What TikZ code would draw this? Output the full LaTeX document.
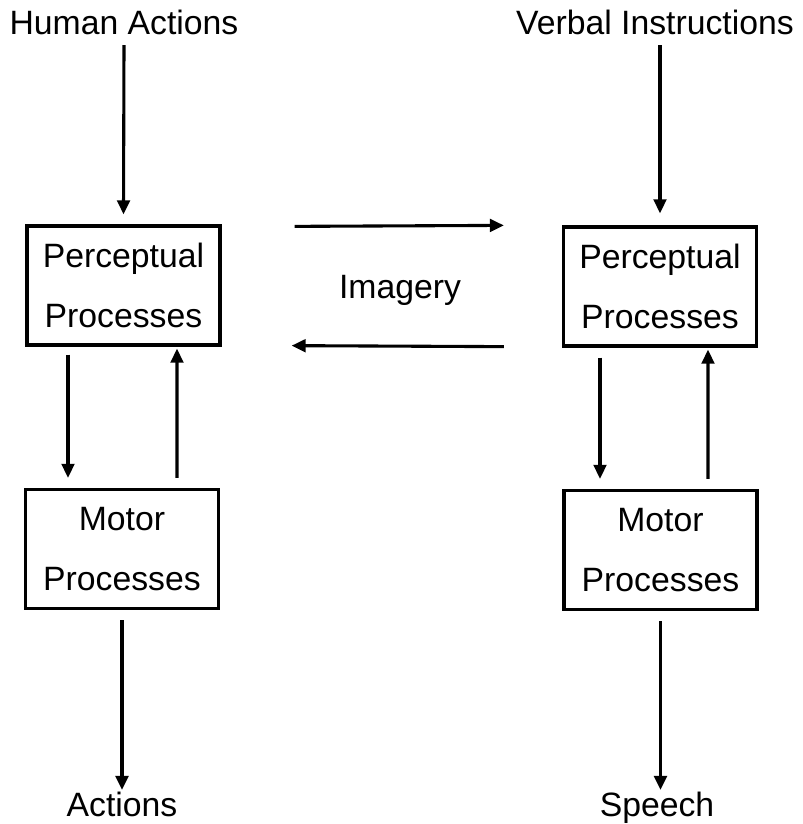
\documentclass[tikz,border=0pt]{standalone}
\usepackage{fontspec}
\setmainfont{Liberation Sans}
\usepackage{tikz}
\usetikzlibrary{positioning}
\usetikzlibrary{calc}
\usetikzlibrary{arrows.meta}

\tikzset{
  procbox/.style={draw, line width=2.3pt, minimum width=4.825cm, minimum height=2.975cm, align=center, inner sep=0pt},
  lbl/.style={inner sep=0pt},
  flow/.style={line width=2.2pt, -{Triangle[length=10pt, width=9pt]}}
}

\begin{document}
\begin{tikzpicture}[x=0.025cm, y=-0.025cm, font=\fontsize{24}{43}\selectfont]
  \useasboundingbox (0,0) rectangle (803,824);
  % labels
  \node[lbl] (hum) at (124,22) {Human Actions};
  \node[lbl] (verb) at (655,22) {Verbal Instructions};
  \node[lbl, anchor=base] (act) at (122,816) {Actions};
  \node[lbl, anchor=base] (spch) at (657,816) {Speech};
  \node[lbl] (img) at (400,290) {Imagery};
  % boxes
  \node[procbox] (pl) at (123.5,285.5) {Perceptual\\Processes};
  \node[procbox] (pr) at (660,286.5) {Perceptual\\Processes};
  \node[procbox] (ml) at (122,549) {Motor\\Processes};
  \node[procbox] (mr) at (660.5,550) {Motor\\Processes};
  % vertical flows
  \draw[flow] (hum.south |- 0,45) -- ($(pl.north)+(0,-10)$);
  \draw[flow] (pr.north |- 0,45) -- ($(pr.north)+(0,-12)$);
  \draw[flow] ($(ml.south)+(0,10)$) -- (ml.south |- 0,790);
  \draw[flow] ($(mr.south)+(0,10)$) -- (mr.south |- 0,790);
  \draw[flow] ($(pl.south)+(-55.5,8)$) -- ($(ml.north)+(-54,-10)$);
  \draw[flow] ($(ml.north)+(55,-10)$) -- ($(pl.south)+(53.5,2)$);
  \draw[flow] ($(pr.south)+(-60,10)$) -- ($(mr.north)+(-60.5,-10)$);
  \draw[flow] ($(mr.north)+(47.5,-10)$) -- ($(pr.south)+(48,2)$);
  % imagery flows
  \draw[flow] ($(pl.north east)+(73,2)$) -- ($(pr.north west)+(-58,0)$);
  \draw[flow] ($(pr.south west)+(-58,-1)$) -- ($(pl.south east)+(70,-1)$);
\end{tikzpicture}
\end{document}
